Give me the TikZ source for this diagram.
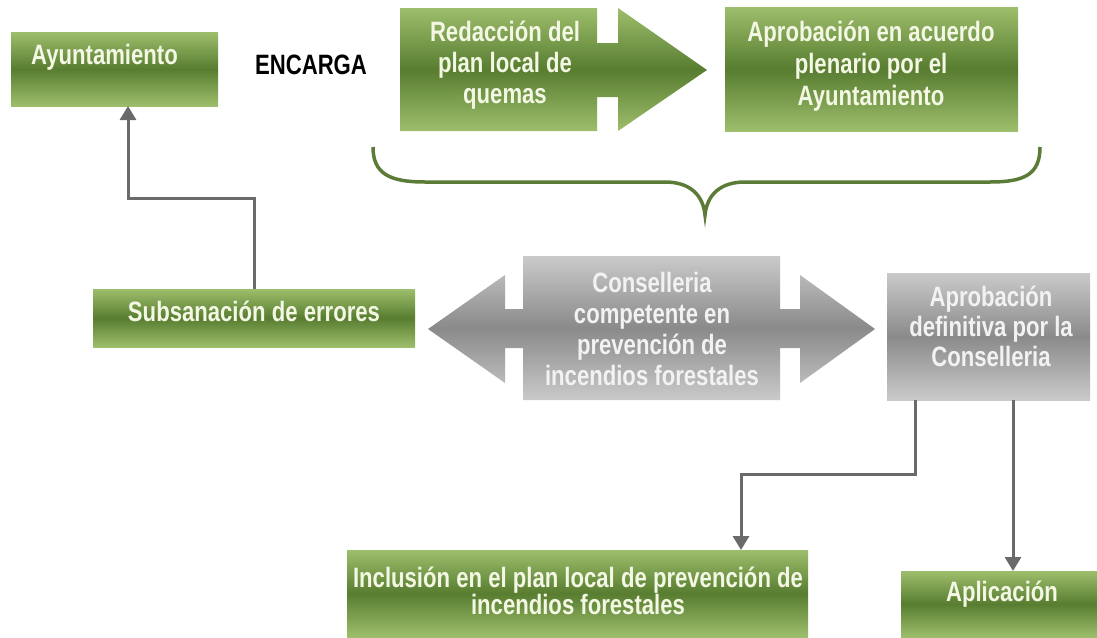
\documentclass[tikz,border=0pt]{standalone}
\usepackage{fontspec}
\setmainfont[FakeStretch=0.79]{Liberation Sans}
\usetikzlibrary{arrows.meta}
\definecolor{vclaro}{HTML}{9DBE6C}
\definecolor{voscuro}{HTML}{587D30}
\definecolor{gclaro}{HTML}{CACACA}
\definecolor{goscuro}{HTML}{8A8A8A}
\definecolor{linea}{HTML}{6A6A6A}
\definecolor{llave}{HTML}{5B7B36}
\definecolor{letra}{HTML}{F3F7E4}

\begin{document}
\begin{tikzpicture}[x=1pt,y=-1pt,
    every node/.style={font=\fontsize{28}{31}\selectfont\bfseries},
    verde/.style={top color=vclaro,bottom color=vclaro,middle color=voscuro},
    gris/.style={top color=gclaro,bottom color=gclaro,middle color=goscuro},
    caja/.style={inner sep=0pt,outer sep=0pt},
    txt/.style={text=letra,align=center},
    conn/.style={draw=linea,line width=3pt,-{Triangle[width=16pt,length=14pt]}}]
  \useasboundingbox (0,0) rectangle (1097,637);

  % arriba
  \node[caja,verde,minimum width=207pt,minimum height=74pt] (ayto) at (114.5,69) {};
  \node[txt] (ayto-t) at (104.5,57) {Ayuntamiento};
  \node (encarga) at (311,65) {ENCARGA};
  \shade[verde] (400,8) -- (597,8) -- (597,43) -- (618,43) -- (618,8) -- (707,70)
        -- (618,131) -- (618,97) -- (597,97) -- (597,131) -- (400,131) -- cycle;
  \node[txt] (redac) at (505,65) {Redacción del\\plan local de\\quemas};
  \node[caja,verde,minimum width=293pt,minimum height=124pt] (aprob) at (871.5,69) {};
  \node[txt,font=\fontsize{28}{32}\selectfont\bfseries] (aprob-t) at (871,66)
        {Aprobación en acuerdo\\plenario por el\\Ayuntamiento};
  \draw[draw=llave,line width=3.5pt] (373,147) .. controls (373,174) and (390,182) .. (425,182)
        -- (665,182) .. controls (690,182) and (703,195) .. (705,215)
        .. controls (707,195) and (720,182) .. (745,182) -- (990,182)
        .. controls (1025,182) and (1040,174) .. (1040,147);

  % medio
  \node[caja,verde,minimum width=322pt,minimum height=58pt] (subs) at (254,318) {};
  \node[txt] (subs-t) at (254,311) {Subsanación de errores};
  \shade[gris] (428,329) -- (505,275) -- (505,309) -- (523,309) -- (523,256) -- (780,256)
        -- (780,309) -- (800,309) -- (800,275) -- (875,329) -- (800,383) -- (800,348)
        -- (780,348) -- (780,400) -- (523,400) -- (523,348) -- (505,348) -- (505,383) -- cycle;
  \node[txt,text=white!95!black] (conse) at (652,329)
        {Conselleria\\competente en\\prevención de\\incendios forestales};
  \node[caja,gris,minimum width=203pt,minimum height=127pt] (aprobdef) at (988.5,336.5) {};
  \node[txt,text=white!95!black,font=\fontsize{28}{30}\selectfont\bfseries] (aprobdef-t) at (991,326)
        {Aprobación\\definitiva por la\\Conselleria};

  % abajo
  \node[caja,verde,minimum width=461pt,minimum height=87pt] (incl) at (577.5,593.5) {};
  \node[txt,font=\fontsize{28}{27}\selectfont\bfseries] (incl-t) at (578,591)
        {Inclusión en el plan local de prevención de\\incendios forestales};
  \node[caja,verde,minimum width=196pt,minimum height=66pt] (aplic) at (999,604) {};
  \node[txt] (aplic-t) at (1002,594) {Aplicación};

  % conectores
  \coordinate (c1) at (128,198);
  \draw[conn] (subs.north) |- (c1) -- (c1 |- ayto.south);
  \coordinate (c2) at (741,474);
  \draw[conn] ([xshift=-73.5pt]aprobdef.south) |- (c2) -- (c2 |- incl.north);
  \draw[conn] ([xshift=24.5pt]aprobdef.south) -- ([xshift=24.5pt]aprobdef.south |- aplic.north);
\end{tikzpicture}
\end{document}
